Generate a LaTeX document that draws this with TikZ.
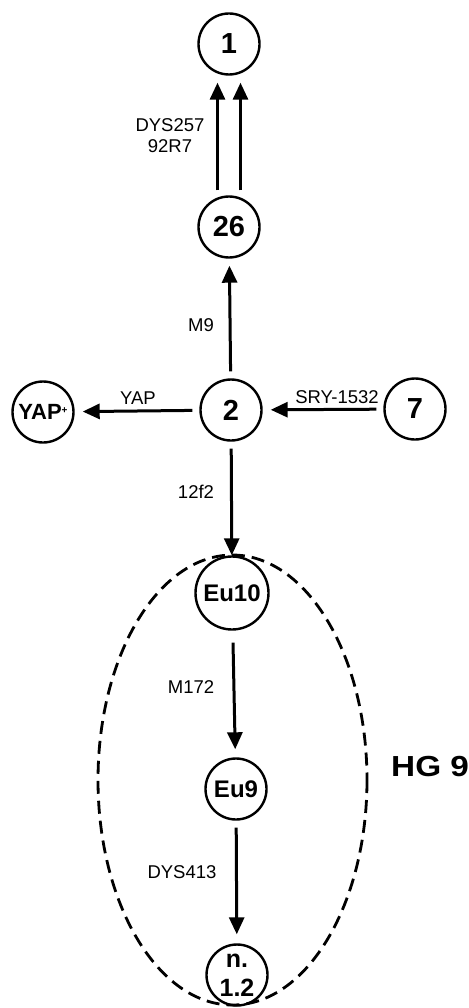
\documentclass[tikz,border=0pt]{standalone}
\usepackage{fontspec}
\setmainfont{Liberation Sans}
\usetikzlibrary{arrows.meta}
\tikzset{
  hap/.style={circle, draw, line width=2.4pt, minimum size=61pt, inner sep=0pt,
    font=\bfseries\fontsize{29}{32}\selectfont},
  haptxt/.style={hap, font=\bfseries\fontsize{24}{28}\selectfont},
  arr/.style={line width=3pt, -{Triangle[length=17pt,width=15pt]}},
  lbl/.style={inner sep=0pt, font=\fontsize{18.5}{21}\selectfont, align=center},
  hg/.style={inner sep=0pt, anchor=west, font=\bfseries\fontsize{29}{32}\selectfont},
  grp/.style={draw, line width=2.8pt, dash pattern=on 13pt off 7pt}
}
\begin{document}
\begin{tikzpicture}[x=1pt,y=-1pt]
\useasboundingbox (0,0) rectangle (468,1008);
% nodes
\node[hap] (n1) at (229,44) {1};
\node[hap] (n26) at (229,227) {26};
\node[hap] (n2) at (231,410) {2};
\node[haptxt, font=\bfseries\fontsize{22}{26}\selectfont] (yap) at (43,412) {YAP\raisebox{6pt}{\fontsize{10}{10}\selectfont +}};
\node[hap] (n7) at (415,409) {7};
\node[haptxt, minimum size=73pt] (eu10) at (232,593) {Eu10};
\node[haptxt] (eu9) at (236,789) {Eu9};
\node[haptxt, align=center, font=\bfseries\fontsize{25}{29}\selectfont] (n12) at (237,975) {n.\\1.2};
% group ellipse
\draw[grp] (232.5,780) ellipse [x radius=134.5, y radius=225];
% connectors
\draw[arr, shorten <=5pt, shorten >=7pt] ([xshift=-11.5pt]n26.north) -- ([xshift=-11.5pt]n26.north |- n1.south);
\draw[arr, shorten <=5pt, shorten >=7pt] ([xshift=11.5pt]n26.north) -- ([xshift=11.5pt]n26.north |- n1.south);
\draw[arr, shorten <=7pt, shorten >=7pt] (n2) -- (n26);
\draw[arr, shorten <=7pt, shorten >=8pt] (n2) -- (yap);
\draw[arr, shorten <=7pt, shorten >=8pt] (n7) -- (n2);
\draw[arr, shorten <=7pt, shorten >=0pt] (n2) -- (eu10);
\draw[arr, shorten <=12pt, shorten >=8pt] (eu10) -- (eu9);
\draw[arr, shorten <=7pt, shorten >=9pt] (eu9) -- (n12);
% labels
\node[lbl] (l1) at (170,136) {DYS257\\92R7};
\node[lbl] (l2) at (201,325) {M9};
\node[lbl] (l3) at (138,398) {YAP};
\node[lbl] (l4) at (337,397) {SRY-1532};
\node[lbl] (l5) at (196,492) {12f2};
\node[lbl] (l6) at (191,687) {M172};
\node[lbl] (l7) at (182,872) {DYS413};
\node[hg, xscale=1.15] (hg) at (391,767) {HG 9};
\end{tikzpicture}
\end{document}
